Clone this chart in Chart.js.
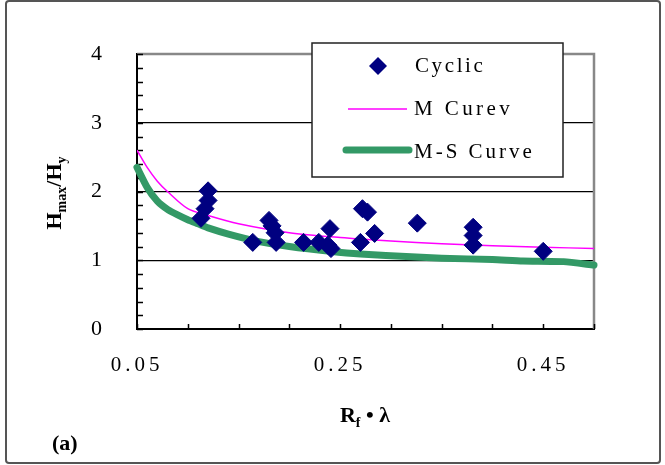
<!DOCTYPE html>
<html>
<head>
<meta charset="utf-8">
<script src="https://cdn.jsdelivr.net/npm/chart.js@4"></script>
<style>
  body { margin: 0; background: #fff; }
  canvas { display: block; }
</style>
</head>
<body>
<canvas id="chart" width="665" height="465"></canvas>
<script>
// data
const seriesNames = ['Cyclic', 'M Curev', 'M-S Curve'];

const cyclicX = [0.120, 0.120, 0.117, 0.113, 0.164, 0.180, 0.183, 0.186, 0.187, 0.214, 0.229, 0.240,
                 0.238, 0.241, 0.270, 0.272, 0.277, 0.284, 0.326, 0.381, 0.381, 0.381, 0.450];
const cyclicY = [2.01, 1.87, 1.75, 1.61, 1.26, 1.58, 1.50, 1.40, 1.26, 1.26, 1.26, 1.46,
                 1.22, 1.17, 1.26, 1.75, 1.70, 1.39, 1.54, 1.48, 1.36, 1.22, 1.13];

const mCurveX = [0.05, 0.06, 0.07, 0.08, 0.10, 0.12, 0.15, 0.20, 0.25, 0.30, 0.35, 0.40, 0.45, 0.50];
const mCurveY = [2.60, 2.35, 2.15, 2.00, 1.75, 1.65, 1.53, 1.40, 1.33, 1.28, 1.24, 1.21, 1.19, 1.17];

const msCurveX = [0.05, 0.06, 0.07, 0.08, 0.09, 0.10, 0.11, 0.12, 0.14, 0.17, 0.20, 0.24, 0.27, 0.32, 0.35, 0.40, 0.43, 0.47, 0.50];
const msCurveY = [2.35, 2.06, 1.86, 1.74, 1.66, 1.59, 1.53, 1.47, 1.38, 1.27, 1.20, 1.13, 1.09, 1.05, 1.03, 1.01, 0.99, 0.98, 0.93];

const xTickValues = [0.05, 0.25, 0.45];
const yTickValues = [0, 1, 2, 3, 4];
const xMinorTicks = [0.05, 0.10, 0.15, 0.20, 0.25, 0.30, 0.35, 0.40, 0.45, 0.50];
const yMinorTicks = [0, 0.2, 0.4, 0.6, 0.8, 1, 1.2, 1.4, 1.6, 1.8, 2, 2.2, 2.4, 2.6, 2.8,
                     3, 3.2, 3.4, 3.6, 3.8, 4];

const NAVY = '#000080';
const MAGENTA = '#ff00ff';
const GREEN = '#339966';

function pts(xs, ys) {
  return xs.map((x, i) => ({ x: x, y: ys[i] }));
}

// draw text pieces (normal + subscript) in one run, centred on cx
function drawPieces(ctx, pieces, cx, baseY) {
  let total = 0;
  pieces.forEach(p => { ctx.font = p.font; total += ctx.measureText(p.t).width; });
  let x = cx - total / 2;
  pieces.forEach(p => {
    ctx.font = p.font;
    ctx.fillText(p.t, x, baseY + (p.dy || 0));
    x += ctx.measureText(p.t).width;
  });
}

const decor = {
  id: 'decor',
  beforeDraw(chart) {
    const ctx = chart.ctx;
    ctx.save();
    ctx.fillStyle = '#fff';
    ctx.fillRect(0, 0, chart.width, chart.height);
    // outer frame
    ctx.strokeStyle = '#555';
    ctx.lineWidth = 2;
    ctx.beginPath();
    ctx.roundRect(6, 1, 654, 462, 3);
    ctx.stroke();
    ctx.restore();
    ctx.letterSpacing = '4px';
  },
  beforeDatasetsDraw(chart) {
    const ctx = chart.ctx;
    const a = chart.chartArea;
    const xs = chart.scales.x, ys = chart.scales.y;
    ctx.save();
    // top and right plot borders
    ctx.strokeStyle = '#888';
    ctx.lineWidth = 2.5;
    ctx.beginPath();
    ctx.moveTo(a.left, a.top);
    ctx.lineTo(a.right, a.top);
    ctx.lineTo(a.right, a.bottom);
    ctx.stroke();
    // inner tick marks
    ctx.strokeStyle = '#000';
    ctx.lineWidth = 1.5;
    ctx.beginPath();
    yMinorTicks.forEach(v => {
      const y = Math.round(ys.getPixelForValue(v)) + 0.5;
      ctx.moveTo(a.left, y);
      ctx.lineTo(a.left + 6, y);
    });
    xMinorTicks.forEach(v => {
      const x = Math.round(xs.getPixelForValue(v)) + 0.5;
      ctx.moveTo(x, a.bottom);
      ctx.lineTo(x, a.bottom - 5);
    });
    ctx.stroke();
    ctx.restore();
  },
  afterDraw(chart) {
    const ctx = chart.ctx;
    ctx.save();
    ctx.letterSpacing = '0px';
    ctx.fillStyle = '#000';
    ctx.textAlign = 'left';
    ctx.textBaseline = 'alphabetic';

    // legend box
    ctx.fillStyle = '#fff';
    ctx.fillRect(312, 43, 251, 134);
    ctx.strokeStyle = '#222';
    ctx.lineWidth = 1.5;
    ctx.strokeRect(312, 43, 251, 134);

    ctx.fillStyle = NAVY;
    ctx.beginPath();
    ctx.moveTo(369, 66); ctx.lineTo(378, 57); ctx.lineTo(387, 66); ctx.lineTo(378, 75);
    ctx.closePath();
    ctx.fill();

    ctx.strokeStyle = MAGENTA;
    ctx.lineWidth = 1.5;
    ctx.beginPath(); ctx.moveTo(348, 109); ctx.lineTo(407, 109); ctx.stroke();

    ctx.strokeStyle = GREEN;
    ctx.lineWidth = 7;
    ctx.lineCap = 'round';
    ctx.beginPath(); ctx.moveTo(346, 150); ctx.lineTo(409, 150); ctx.stroke();

    ctx.fillStyle = '#000';
    ctx.font = '21px "Liberation Serif"';
    ctx.letterSpacing = '2.6px';
    ctx.fillText(seriesNames[0], 415, 72);
    ctx.letterSpacing = '3.4px';
    ctx.fillText(seriesNames[1], 414, 115);
    ctx.letterSpacing = '3px';
    ctx.fillText(seriesNames[2], 414, 158);
    ctx.letterSpacing = '0px';

    // axis titles
    const big = 'bold 22px "Liberation Serif"';
    const sub = 'bold 14px "Liberation Serif"';
    ctx.save();
    ctx.translate(61, 193);
    ctx.rotate(-Math.PI / 2);
    drawPieces(ctx, [
      { t: 'H', font: big }, { t: 'max', font: sub, dy: 5 },
      { t: '/', font: big }, { t: 'H', font: big }, { t: 'y', font: sub, dy: 5 }
    ], 0, 0);
    ctx.restore();

    drawPieces(ctx, [
      { t: 'R', font: big }, { t: 'f', font: sub, dy: 5 },
      { t: ' \u2022 \u03bb', font: big }
    ], 365, 422);

    ctx.font = 'bold 22px "Liberation Serif"';
    ctx.fillText('(a)', 52, 450);
    ctx.restore();
  }
};

new Chart(document.getElementById('chart'), {
  type: 'scatter',
  data: {
    datasets: [
      {
        label: seriesNames[0],
        data: pts(cyclicX, cyclicY),
        pointStyle: 'rectRot',
        pointRadius: 9,
        borderWidth: 1,
        backgroundColor: NAVY,
        borderColor: NAVY,
        showLine: false
      },
      {
        label: seriesNames[1],
        data: pts(mCurveX, mCurveY),
        showLine: true,
        pointRadius: 0,
        borderColor: MAGENTA,
        borderWidth: 1.5,
        tension: 0.3
      },
      {
        label: seriesNames[2],
        data: pts(msCurveX, msCurveY),
        showLine: true,
        pointRadius: 0,
        borderColor: GREEN,
        borderWidth: 7,
        borderCapStyle: 'round',
        tension: 0.2,
        clip: false
      }
    ]
  },
  options: {
    responsive: false,
    animation: false,
    layout: { padding: { left: 0, right: 71, top: 54, bottom: 0 } },
    plugins: {
      legend: { display: false },
      tooltip: { enabled: false }
    },
    scales: {
      x: {
        type: 'linear',
        min: 0.05,
        max: 0.5,
        afterBuildTicks: s => { s.ticks = xTickValues.map(v => ({ value: v })); },
        afterFit: s => { s.height = 136; },
        grid: { display: false, drawTicks: false },
        border: { color: '#000', width: 2 },
        ticks: {
          padding: 24,
          color: '#000',
          font: { family: 'Liberation Serif', size: 21 },
          maxRotation: 0,
          callback: v => v.toFixed(2)
        }
      },
      y: {
        min: 0,
        max: 4,
        afterBuildTicks: s => { s.ticks = yTickValues.map(v => ({ value: v })); },
        afterFit: s => { s.width = 137; },
        grid: {
          drawTicks: false,
          color: c => (c.tick && c.tick.value > 0 && c.tick.value < 4) ? '#000' : 'rgba(0,0,0,0)',
          lineWidth: 1.2
        },
        border: { color: '#000', width: 2 },
        ticks: {
          padding: 31,
          color: '#000',
          font: { family: 'Liberation Serif', size: 22 },
          callback: v => String(v)
        }
      }
    }
  },
  plugins: [decor]
});
</script>
</body>
</html>
